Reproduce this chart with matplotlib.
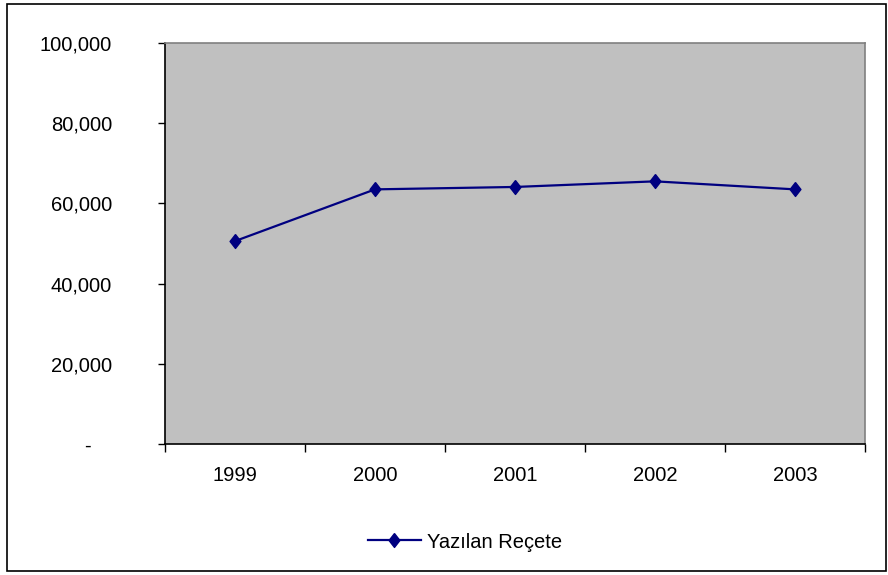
import matplotlib
matplotlib.use("Agg")
import matplotlib.pyplot as plt
from matplotlib.patches import Rectangle
from matplotlib.ticker import FuncFormatter, FixedLocator
from matplotlib.transforms import ScaledTranslation

plt.rcParams['font.family'] = ['Liberation Sans', 'DejaVu Sans']

years = ['1999', '2000', '2001', '2002', '2003']
values = [50600, 63500, 64100, 65500, 63500]
series_name = 'Yazılan Reçete'

FS = 14.5
diamond = [(0, 1), (0.78, 0), (0, -1), (-0.78, 0), (0, 1)]

fig = plt.figure(figsize=(8.88, 5.75), dpi=100)
fig.patches.append(Rectangle((7/888, 4/575), 879/888, 567/575, transform=fig.transFigure,
                             fill=False, edgecolor='black', linewidth=1.2))
ax = fig.add_axes([165/888, (575-444)/575, 700/888, 401/575])
ax.set_facecolor('#c0c0c0')

x = list(range(len(years)))
ax.plot(x, values, color='#000080', linewidth=1.6, marker=diamond, markersize=10,
        label=series_name)

ax.set_xlim(-0.5, len(years) - 0.5)
ax.set_ylim(0, 100000)
ax.set_yticks([0, 20000, 40000, 60000, 80000, 100000])
ax.yaxis.set_major_formatter(FuncFormatter(lambda v, p: '-' if v == 0 else f'{int(v):,}'))
ax.xaxis.set_major_locator(FixedLocator([i - 0.5 for i in range(len(years) + 1)]))
ax.set_xticklabels([])
for i, yl in enumerate(years):
    ax.text(i, -0.055, yl, transform=ax.get_xaxis_transform(), ha='center', va='top', fontsize=FS)

ax.tick_params(axis='y', direction='out', length=5, width=1, labelsize=FS, pad=33)
ax.tick_params(axis='x', direction='out', length=6, width=1)
ax.spines['left'].set_color('black')
ax.spines['bottom'].set_color('black')
ax.spines['top'].set_color('#808080')
ax.spines['right'].set_color('#808080')
for s in ax.spines.values():
    s.set_linewidth(1.2)

fig.canvas.draw()
zero_lbl = ax.get_yticklabels()[0]
zero_lbl.set_transform(zero_lbl.get_transform() + ScaledTranslation(-0.21, 0, fig.dpi_scale_trans))

leg = fig.legend(loc='center', bbox_to_anchor=(465/888, (575-542)/575), frameon=False,
                 fontsize=FS, handlelength=2.6, handletextpad=0.3)

fig.savefig('out.png', dpi=100)
